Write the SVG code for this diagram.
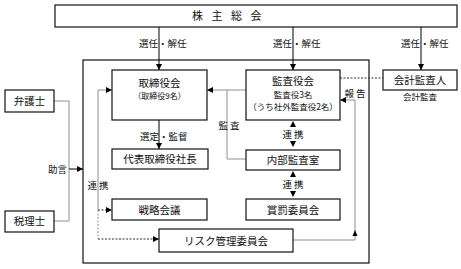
<svg xmlns="http://www.w3.org/2000/svg" width="461" height="269" viewBox="0 0 461 269">
<style>
text{font-family:"Noto Sans CJK JP","Noto Sans CJK SC",sans-serif;fill:#111;}
.box{fill:#fff;stroke:#111;stroke-width:1.2;}
.lb{font-size:10.5px;text-anchor:middle;}
.sm{font-size:9.5px;}
.xs{font-size:8.5px;text-anchor:middle;}
.ln{fill:none;stroke:#000;stroke-width:1;}
.gr{fill:none;stroke:#8f8f8f;stroke-width:1;}
.ds{fill:none;stroke:#333;stroke-width:1;stroke-dasharray:2,1.5;}
.gds{fill:none;stroke:#8f8f8f;stroke-width:1;stroke-dasharray:2,1.5;}
.tri{fill:#000;}
</style>
<defs>
<marker id="ah" markerUnits="userSpaceOnUse" markerWidth="7" markerHeight="7" refX="6" refY="3" orient="auto">
<path d="M0,0 L6,3 L0,6 Z" fill="#000"/>
</marker>
</defs>
<rect x="0" y="0" width="461" height="269" fill="#fff"/>
<g id="outer"><rect x="83" y="60" width="286" height="203" fill="none" stroke="#111" stroke-width="1.2"/></g>
<g id="connectors">
<line class="ln" x1="159" y1="27" x2="159" y2="70" marker-end="url(#ah)"/>
<line class="ln" x1="293" y1="27" x2="293" y2="70" marker-end="url(#ah)"/>
<line class="ln" x1="421" y1="27" x2="421" y2="70" marker-end="url(#ah)"/>
<line class="ln" x1="159" y1="120" x2="159" y2="149" marker-end="url(#ah)"/>
<line class="ds" x1="340" y1="78" x2="383" y2="78"/>
<path class="gr" d="M54,101 H69 V221 H54"/>
<line class="ln" x1="69" y1="169" x2="83" y2="169" marker-end="url(#ah)"/>
<path class="gr" d="M98,210 V90 H112" marker-end="url(#ah)"/>
<path class="ds" d="M98,210 H112" marker-end="url(#ah)"/>
<path class="gds" d="M98,210 V239"/>
<path class="ds" d="M98,239 H159" marker-end="url(#ah)"/>
<path class="gr" d="M246,90 H207" marker-end="url(#ah)"/>
<path class="gr" d="M227,90 V159 H246"/>
<path class="gr" d="M293,240 H355 V100 H340" marker-end="url(#ah)"/>
<polygon class="tri" points="352.5,236 355,230 357.5,236"/>
<polygon class="tri" points="290,127 293,121 296,127"/>
<polygon class="tri" points="290,141 296,141 293,147"/>
<polygon class="tri" points="290,177 293,171 296,177"/>
<polygon class="tri" points="290,191 296,191 293,197"/>
</g>
<g id="labels">
<text class="sm" x="139" y="47">選任・解任</text>
<text class="sm" x="273" y="47">選任・解任</text>
<text class="sm" x="401" y="47">選任・解任</text>
<text class="sm" x="140" y="139.5">選定・監督</text>
<text class="sm" x="67" y="172.5" text-anchor="end">助言</text>
<text class="sm" x="98" y="188.5" text-anchor="middle">連 携</text>
<text class="sm" x="229" y="128.5" text-anchor="middle">監 査</text>
<text class="sm" x="355" y="97" text-anchor="middle">報 告</text>
<text class="sm" x="293" y="137.5" text-anchor="middle">連 携</text>
<text class="sm" x="293" y="187.5" text-anchor="middle">連 携</text>
</g>
<g id="kabunushi"><rect class="box" x="55" y="5" width="402" height="22"/><text x="192" y="20" style="font-size:11px;letter-spacing:8.5px">株主総会</text></g>
<g id="torishimariyakukai"><rect class="box" x="112" y="70" width="95" height="50"/><text class="lb" x="159.5" y="86.5">取締役会</text><text class="xs" x="159.5" y="99" style="font-size:8px">（取締役9名）</text></g>
<g id="kansayakukai"><rect class="box" x="246" y="70" width="94" height="50"/><text class="lb" x="293" y="85">監査役会</text><text class="xs" x="293" y="98">監査役3名</text><text class="xs" x="293" y="109.5">（うち社外監査役2名）</text></g>
<g id="kaikeikansanin"><rect class="box" x="383" y="70" width="74" height="20"/><text class="lb" x="420" y="84">会計監査人</text><text class="xs" x="420" y="99.5">会計監査</text></g>
<g id="daihyo"><rect class="box" x="112" y="149" width="96" height="20"/><text class="lb" x="160" y="163">代表取締役社長</text></g>
<g id="senryaku"><rect class="box" x="112" y="199" width="95" height="21"/><text class="lb" x="159.5" y="213.5">戦略会議</text></g>
<g id="risk"><rect class="box" x="159" y="229" width="134" height="23"/><text class="lb" x="226" y="244.5">リスク管理委員会</text></g>
<g id="naibukansa"><rect class="box" x="246" y="150" width="94" height="20"/><text class="lb" x="293" y="164">内部監査室</text></g>
<g id="shobatsu"><rect class="box" x="246" y="199" width="94" height="21"/><text class="lb" x="293" y="213.5">賞罰委員会</text></g>
<g id="bengoshi"><rect class="box" x="5" y="90" width="49" height="22"/><text class="lb" x="29.5" y="104.5">弁護士</text></g>
<g id="zeirishi"><rect class="box" x="5" y="211" width="49" height="21"/><text class="lb" x="29.5" y="225">税理士</text></g>
</svg>
